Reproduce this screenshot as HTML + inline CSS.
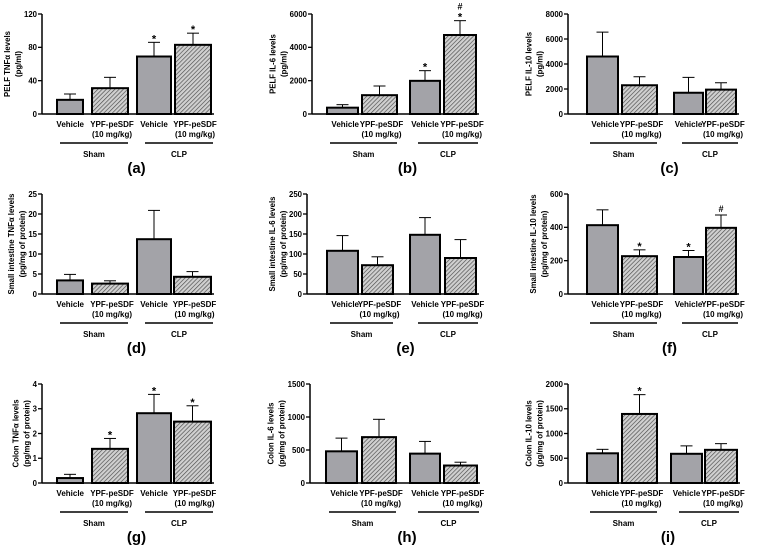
<!DOCTYPE html>
<html><head><meta charset="utf-8">
<style>
html,body{margin:0;padding:0;background:#fff;}
svg{display:block;font-family:"Liberation Sans",Arial,sans-serif;}
</style></head>
<body>
<svg id="fig" width="759" height="548" viewBox="0 0 759 548">
<defs>
<pattern id="hatch" patternUnits="userSpaceOnUse" width="3" height="3" patternTransform="rotate(45)">
<rect width="3" height="3" fill="#d0d0d0"/>
<line x1="0" y1="0" x2="0" y2="3" stroke="#4a4a4a" stroke-width="1.3"/>
</pattern>
</defs>
</svg>
<script>
const panelLetters = ["a","b","c","d","e","f","g","h","i"];
const yTitles1 = ["PELF TNFα levels","PELF IL-6 levels","PELF IL-10 levels","Small intestine TNFα levels","Small intestine IL-6 levels","Small intestine IL-10 levels","Colon TNFα levels","Colon IL-6 levels","Colon IL-10 levels"];
const yTitles2 = ["(pg/ml)","(pg/ml)","(pg/ml)","(pg/mg of protein)","(pg/mg of protein)","(pg/mg of protein)","(pg/mg of protein)","(pg/mg of protein)","(pg/mg of protein)"];
const yMax = [120,6000,8000,25,250,600,4,1500,2000];
const yStep = [40,2000,2000,5,50,200,1,500,500];
const meanA = [17,31,69,83];
const errA = [24,44,86,97];
const meanB = [380,1130,1990,4740];
const errB = [560,1680,2600,5600];
const meanC = [4600,2300,1700,1950];
const errC = [6550,2980,2930,2500];
const meanD = [3.4,2.6,13.7,4.3];
const errD = [4.9,3.3,20.9,5.6];
const meanE = [108,72,148,90];
const errE = [146,93,191,136];
const meanF = [413,227,222,397];
const errF = [505,265,261,474];
const meanG = [0.2,1.38,2.82,2.48];
const errG = [0.35,1.8,3.58,3.12];
const meanH = [480,695,445,265];
const errH = [680,965,630,315];
const meanI = [600,1395,590,670];
const errI = [680,1785,750,795];
const starsA = ["","","*","*"];
const starsB = ["","","*","*#"];
const starsC = ["","","",""];
const starsD = ["","","",""];
const starsE = ["","","",""];
const starsF = ["","*","*","#"];
const starsG = ["","*","*","*"];
const starsH = ["","","",""];
const starsI = ["","*","",""];
const means = [meanA,meanB,meanC,meanD,meanE,meanF,meanG,meanH,meanI];
const errs = [errA,errB,errC,errD,errE,errF,errG,errH,errI];
const stars = [starsA,starsB,starsC,starsD,starsE,starsF,starsG,starsH,starsI];

// layout
const axX = [42,312,568,42,307,568,42,310,568];
const rowTop = [14,194,384];
const rowZero = [114,294,483];
const layoutBars = [
 [[57,83],[92,128],[137,171],[175,211]],
 [[327,358],[362,397],[410,440],[444,476]],
 [[587,618],[622,657],[674,703],[706,736]],
 [[57,83],[92,128],[137,171],[174,211]],
 [[327,358],[362,393],[410,440],[445,476]],
 [[587,618],[622,657],[674,703],[706,736]],
 [[57,83],[92,128],[137,171],[174,211]],
 [[326,357],[362,396],[410,440],[444,477]],
 [[587,618],[622,657],[671,702],[705,737]]
];
const NS="http://www.w3.org/2000/svg";
const svg=document.getElementById('fig');
function mk(tag,attrs,parent,text){const e=document.createElementNS(NS,tag);for(const k in attrs)e.setAttribute(k,attrs[k]);if(text!==undefined)e.textContent=text;(parent||svg).appendChild(e);return e;}

for(let p=0;p<9;p++){
  const r=Math.floor(p/3);
  const top=rowTop[r], zero=rowZero[r], ax=axX[p];
  const bars=layoutBars[p];
  const g=mk('g',{});
  
  
  const yScale=v=>zero-(v/yMax[p])*(zero-top);
  const axEnd=bars[3][1]+3;
  const ya=mk('line',{x1:ax,y1:top,x2:ax,y2:zero,stroke:'#000','stroke-width':1.5},g);
  
  
  const xa=mk('line',{x1:ax,y1:zero,x2:axEnd,y2:zero,stroke:'#000','stroke-width':1.5},g);
  
  
  for(let v=0;v<=yMax[p]+1e-9;v+=yStep[p]){
    const y=yScale(v);
    mk('line',{x1:ax-4,y1:y,x2:ax,y2:y,stroke:'#000','stroke-width':1.3},g);
    const t=mk('text',{x:ax-5,y:y+2.9,'text-anchor':'end','font-size':7.8,'font-weight':'bold'},g,String(v));
    
    
  }
  const cy=(top+zero)/2;
  const tw=String(yMax[p]).length*4.4;
  const c2x=ax-6-tw-5;
  const c1x=c2x-11;
  const yt=mk('text',{transform:`translate(${c1x+3},${cy}) rotate(-90)`,'text-anchor':'middle','font-size':7.8,'font-weight':'bold'},g,yTitles1[p]);
  
  
  const yt2e=mk('text',{transform:`translate(${c2x+3},${cy}) rotate(-90)`,'text-anchor':'middle','font-size':7.8,'font-weight':'bold'},g,yTitles2[p]);
  
  
  for(let i=0;i<4;i++){
    const [x1,x2]=bars[i];
    const cx=(x1+x2)/2;
    const yt2=yScale(errs[p][i]);
    const ym=yScale(means[p][i]);
    const eb=mk('line',{x1:cx,y1:ym,x2:cx,y2:yt2,stroke:'#000','stroke-width':1},g);
    
    
    mk('line',{x1:cx-6,y1:yt2,x2:cx+6,y2:yt2,stroke:'#000','stroke-width':1},g);
    const b=mk('rect',{x:x1,y:ym,width:x2-x1,height:zero-ym,fill:(i%2===0?'#a3a3a8':'url(#hatch)'),stroke:'#000','stroke-width':2},g);
    
    
    const s=stars[p][i];
    let hy=yt2-3;
    if(s.includes('*')){
      const st=mk('text',{x:cx,y:yt2+0,'text-anchor':'middle','font-size':11,'font-weight':'bold'},g,'*');
      
      
      hy=yt2-11;
    }
    if(s.includes('#')){
      const ht=mk('text',{x:cx,y:hy,'text-anchor':'middle','font-size':9,'font-weight':'bold'},g,'#');
      
      
    }
  }
  const fs=8;
  const l1=mk('text',{x:bars[0][1]+1,y:zero+13,'text-anchor':'end','font-size':fs,'font-weight':'bold'},g,'Vehicle');
  
  
  const c2=(bars[1][0]+bars[1][1])/2+2;
  const l2=mk('text',{x:c2,y:zero+13,'text-anchor':'middle','font-size':fs,'font-weight':'bold'},g,'YPF-peSDF');
  
  
  mk('text',{x:c2,y:zero+23,'text-anchor':'middle','font-size':fs,'font-weight':'bold'},g,'(10 mg/kg)');
  const c3=(bars[2][0]+bars[2][1])/2;
  const l3=mk('text',{x:c3,y:zero+13,'text-anchor':'middle','font-size':fs,'font-weight':'bold'},g,'Vehicle');
  
  
  const c4=(bars[3][0]+bars[3][1])/2+2;
  mk('text',{x:c4,y:zero+13,'text-anchor':'middle','font-size':fs,'font-weight':'bold'},g,'YPF-peSDF');
  mk('text',{x:c4,y:zero+23,'text-anchor':'middle','font-size':fs,'font-weight':'bold'},g,'(10 mg/kg)');
  const gs=[[bars[0][0]+3,bars[1][1]],[bars[2][0]+8,bars[3][1]+2]];
  const gn=['Sham','CLP'];
  for(let k=0;k<2;k++){
    const gl=mk('line',{x1:gs[k][0],y1:zero+29,x2:gs[k][1],y2:zero+29,stroke:'#000','stroke-width':1.5},g);
    
    
    const gt=mk('text',{x:(gs[k][0]+gs[k][1])/2,y:zero+43,'text-anchor':'middle','font-size':8,'font-weight':'bold'},g,gn[k]);
    
    
  }
  const pl=mk('text',{x:(gs[0][1]+gs[1][0])/2,y:zero+59,'text-anchor':'middle','font-size':15,'font-weight':'bold'},g,'('+panelLetters[p]+')');
  
  
}
</script>
</body></html>
